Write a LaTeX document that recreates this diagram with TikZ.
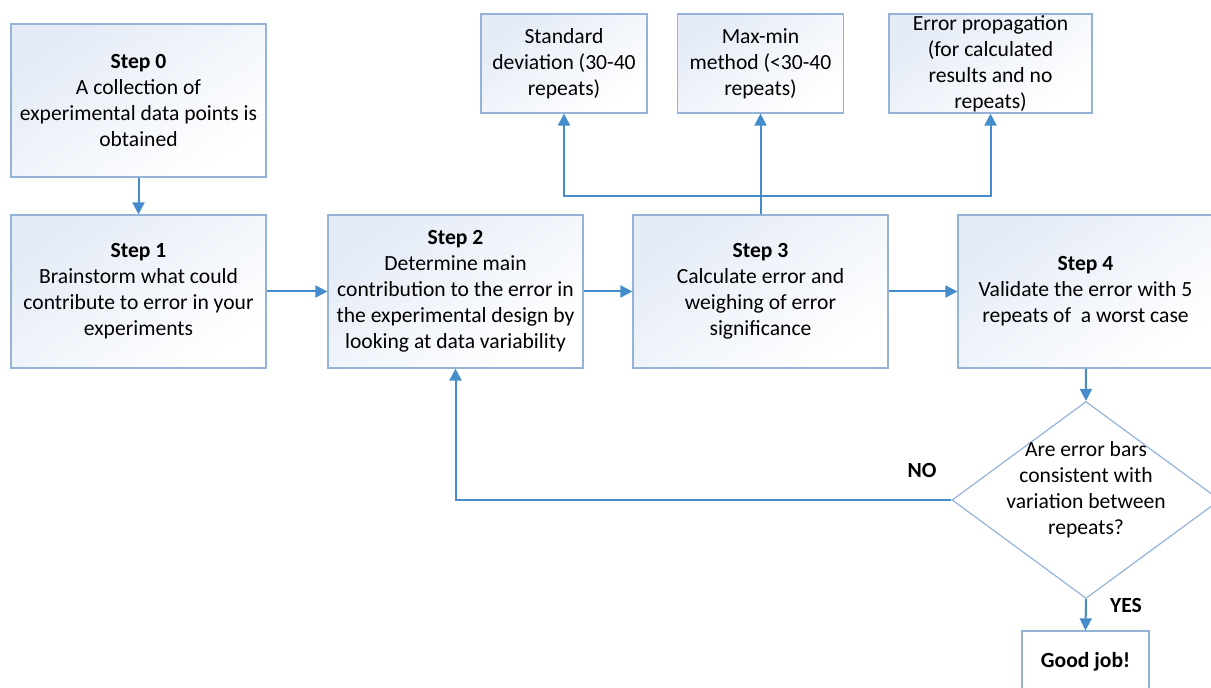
\documentclass[tikz,border=0pt]{standalone}
\usepackage{fontspec}
\setmainfont{Carlito}
\usetikzlibrary{arrows.meta, positioning, shapes.geometric}
\definecolor{boxline}{RGB}{149,179,215}
\definecolor{flowblue}{RGB}{68,140,203}
\definecolor{boxtint}{RGB}{228,235,246}

\tikzset{
  stepbox/.style={draw=boxline, line width=0.6pt, top color=boxtint, bottom color=white,
    shading angle=35, align=center, inner sep=0pt,
    minimum width=127.5pt, minimum height=76.5pt},
  methodbox/.style={stepbox, minimum width=83pt, minimum height=49.5pt},
  decision/.style={diamond, draw=boxline, line width=0.6pt, fill=white, inner sep=0pt,
    minimum width=134pt, minimum height=98.5pt},
  flow/.style={draw=flowblue, line width=1pt, -{Triangle[length=6pt, width=6pt]}},
  answer/.style={font=\fontsize{10.8}{13}\selectfont\bfseries}
}

\begin{document}
\begin{tikzpicture}[x=0.5pt, y=-0.5pt, font=\fontsize{10.8}{13}\selectfont]
  \useasboundingbox (0,0) rectangle (1211,688);

  % main steps
  \node[stepbox] (s0) at (138.5,100.5) {\textbf{Step 0}\\A collection of\\experimental data points is\\obtained};
  \node[stepbox] (s1) at (138.5,291.5) {\textbf{Step 1}\\Brainstorm what could\\contribute to error in your\\experiments};
  \node[stepbox] (s2) at (455.5,291.5) {\textbf{Step 2}\\Determine main\\contribution to the error in\\the experimental design by\\looking at data variability};
  \node[stepbox] (s3) at (760.5,291.5) {\textbf{Step 3}\\Calculate error and\\weighing of error\\significance};
  \node[stepbox] (s4) at (1085.5,291.5) {\textbf{Step 4}\\Validate the error with 5\\repeats of~ a worst case};

  % error methods
  \node[methodbox] (sd) at (564,63.5) {Standard\\deviation (30-40\\repeats)};
  \node[methodbox] (mm) at (760.5,63.5) {Max-min\\method (<30-40\\repeats)};
  \node[methodbox, minimum width=101.5pt] (ep) at (990.5,63.5) {Error propagation\\(for calculated\\results and no\\repeats)};

  % check
  \node[decision] (q) at (1086,500) {};
  \node[align=center] (qtext) at ([yshift=5pt]q.center) {Are error bars\\consistent with\\variation between\\repeats?};
  \node[stepbox, top color=white, minimum width=63.5pt, minimum height=31pt] (done) at (1085.5,662) {\textbf{Good job!}};

  \node[answer] (no) at (922,470) {NO};
  \node[answer] (yes) at (1126,605) {YES};

  \coordinate (split) at (760.5,196);

  \draw[flow] (s0) -- (s1);
  \draw[flow] (s1) -- (s2);
  \draw[flow] (s2) -- (s3);
  \draw[flow] (s3) -- (s4);
  \draw[flow] (s3.north) -- (mm.south);
  \draw[flow] (split) -| (sd.south);
  \draw[flow] (split) -| (ep.south);
  \draw[flow] (s4) -- (q.north);
  \draw[flow] (q.west) -| (s2.south);
  \draw[flow] (q.south) -- (done.north);
\end{tikzpicture}
\end{document}
